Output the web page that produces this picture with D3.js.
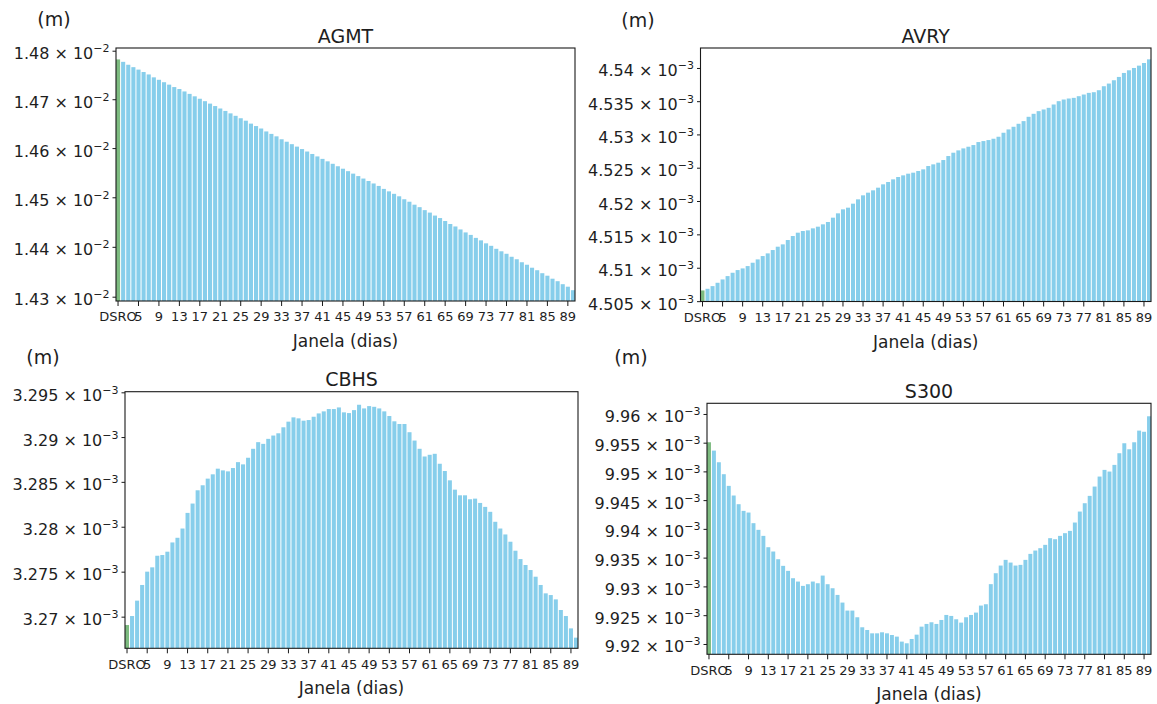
<!DOCTYPE html>
<html>
<head>
<meta charset="utf-8">
<script src="https://cdn.jsdelivr.net/npm/d3@7"></script>
<style>
  body { margin: 0; background: #ffffff; }
  svg text { font-family: "DejaVu Sans", sans-serif; fill: #1e1e1e; }
</style>
</head>
<body>
<svg id="chart" width="1157" height="704"></svg>
<script>
// Window sizes on the x axis: the DSRO reference first, then windows of 2..90 days
const categories = ["DSRO",
  "2","3","4","5","6","7","8","9","10","11","12","13","14","15","16","17","18","19","20",
  "21","22","23","24","25","26","27","28","29","30","31","32","33","34","35","36","37","38","39","40",
  "41","42","43","44","45","46","47","48","49","50","51","52","53","54","55","56","57","58","59","60",
  "61","62","63","64","65","66","67","68","69","70","71","72","73","74","75","76","77","78","79","80",
  "81","82","83","84","85","86","87","88","89","90"];

const xTickLabels = ["DSRO","5","9","13","17","21","25","29","33","37","41","45",
  "49","53","57","61","65","69","73","77","81","85","89"];

// Station values, as mantissas of the power of ten given with each station
const agmtValues = [
  1.4782,1.4777,1.4771,1.4766,1.4761,1.4756,1.4751,1.4745,1.4740,1.4735,
  1.4730,1.4725,1.4721,1.4716,1.4711,1.4706,1.4701,1.4696,1.4691,1.4686,
  1.4681,1.4676,1.4671,1.4666,1.4661,1.4656,1.4650,1.4645,1.4640,1.4634,
  1.4629,1.4624,1.4618,1.4613,1.4608,1.4603,1.4598,1.4593,1.4588,1.4583,
  1.4578,1.4573,1.4568,1.4563,1.4558,1.4553,1.4548,1.4543,1.4538,1.4533,
  1.4528,1.4523,1.4517,1.4512,1.4507,1.4502,1.4496,1.4491,1.4485,1.4480,
  1.4474,1.4469,1.4463,1.4458,1.4452,1.4446,1.4441,1.4435,1.4429,1.4424,
  1.4418,1.4413,1.4407,1.4402,1.4396,1.4391,1.4386,1.4380,1.4375,1.4369,
  1.4364,1.4358,1.4353,1.4347,1.4342,1.4336,1.4331,1.4325,1.4320,1.4313];
const agmtExp = -2;
const agmtTicks = [1.43, 1.44, 1.45, 1.46, 1.47, 1.48];

const avryValues = [
  4.5066,4.50685,4.50725,4.50775,4.50825,4.50875,4.50925,4.50965,4.5099,4.51025,
  4.51075,4.51125,4.51175,4.51215,4.51265,4.51315,4.5135,4.51415,4.51475,4.51525,
  4.5155,4.5156,4.5159,4.51615,4.5165,4.51685,4.5175,4.51815,4.51875,4.519,
  4.5196,4.52025,4.52085,4.52125,4.5216,4.522,4.5225,4.52285,4.52325,4.5236,
  4.52385,4.5241,4.52425,4.5245,4.52475,4.52525,4.5255,4.52575,4.52615,4.52675,
  4.52725,4.5276,4.5279,4.52815,4.5284,4.52885,4.529,4.52915,4.52935,4.52965,
  4.53025,4.53075,4.53115,4.5316,4.532,4.53265,4.5331,4.5335,4.53375,4.534,
  4.5345,4.535,4.53525,4.5354,4.5355,4.53575,4.536,4.53625,4.53635,4.53665,
  4.53725,4.53765,4.53815,4.53865,4.53925,4.53965,4.54,4.54035,4.54075,4.5413];
const avryExp = -3;
const avryTicks = [4.505, 4.51, 4.515, 4.52, 4.525, 4.53, 4.535, 4.54];

const cbhsValues = [
  3.26907,3.27007,3.27178,3.27352,3.275,3.27548,3.27677,3.27685,3.27722,3.27825,
  3.27877,3.2798,3.28154,3.28258,3.28406,3.28462,3.28536,3.28584,3.28647,3.28628,
  3.28617,3.28654,3.2872,3.28695,3.28769,3.28869,3.28943,3.28924,3.2898,3.29017,
  3.29042,3.29109,3.29172,3.2922,3.29209,3.29183,3.2919,3.29227,3.29264,3.29287,
  3.29313,3.29313,3.29331,3.29276,3.29268,3.29301,3.29361,3.2932,3.29346,3.29338,
  3.2932,3.29287,3.29235,3.29176,3.29146,3.29146,3.29054,3.28961,3.28869,3.28783,
  3.28802,3.28813,3.28702,3.28621,3.28517,3.28413,3.2835,3.2835,3.28306,3.28313,
  3.28265,3.28221,3.28166,3.28055,3.2798,3.27914,3.27833,3.27733,3.2764,3.27574,
  3.27518,3.27444,3.27352,3.27259,3.2724,3.27192,3.27074,3.27007,3.2687,3.26767];
const cbhsExp = -3;
const cbhsTicks = [3.27, 3.275, 3.28, 3.285, 3.29, 3.295];

const s300Values = [
  9.95507,9.95362,9.95159,9.94951,9.94748,9.9458,9.94429,9.94313,9.94284,9.94099,
  9.93983,9.93878,9.93681,9.93606,9.93472,9.93357,9.9327,9.93142,9.93084,9.93009,
  9.93038,9.93084,9.93055,9.93188,9.93038,9.92968,9.92852,9.92719,9.9258,9.9258,
  9.92464,9.9229,9.92243,9.92185,9.92185,9.92203,9.92185,9.92156,9.92128,9.92041,
  9.92012,9.92087,9.92162,9.92301,9.92348,9.92377,9.92348,9.92417,9.92504,9.92487,
  9.92429,9.92371,9.92464,9.92504,9.92545,9.92667,9.9269,9.93039,9.93229,9.93362,
  9.93461,9.93414,9.93362,9.93374,9.93461,9.93565,9.93623,9.93664,9.93722,9.93838,
  9.9382,9.93878,9.93925,9.93965,9.9411,9.94301,9.94446,9.94574,9.94736,9.9491,
  9.95026,9.94997,9.95113,9.95316,9.9549,9.95385,9.95507,9.9571,9.9569,9.9596];
const s300Exp = -3;
const s300Ticks = [9.92, 9.925, 9.93, 9.935, 9.94, 9.945, 9.95, 9.955, 9.96];

const barColor = "#87ceeb";
const refColor = "#7dbb80";

// Layout of the four subplots (plot box in px, log-axis limits, unit label spot)
const panels = [
  { title: "AGMT", values: agmtValues, exp: agmtExp, ticks: agmtTicks,
    box: { x0: 116, x1: 575, y0: 48, y1: 301 }, domain: [1.42914, 1.48056], unitAt: [54, 26] },
  { title: "AVRY", values: avryValues, exp: avryExp, ticks: avryTicks,
    box: { x0: 700.5, x1: 1151, y0: 48, y1: 301.5 }, domain: [4.50495, 4.54301], unitAt: [638, 27] },
  { title: "CBHS", values: cbhsValues, exp: cbhsExp, ticks: cbhsTicks,
    box: { x0: 125, x1: 578, y0: 391.7, y1: 648.3 }, domain: [3.26649, 3.29507], unitAt: [43, 364] },
  { title: "S300", values: s300Values, exp: s300Exp, ticks: s300Ticks,
    box: { x0: 707, x1: 1151, y0: 403.3, y1: 654.3 }, domain: [9.91821, 9.96186], unitAt: [631, 364] }
];

const svg = d3.select("#chart");
svg.append("rect").attr("width", 1157).attr("height", 704).attr("fill", "#ffffff");

panels.forEach((p, pi) => {
  const { x0, x1, y0, y1 } = p.box;
  const g = svg.append("g");

  const x = d3.scaleBand().domain(categories).range([x0, x1])
    .paddingInner(0.2).paddingOuter(0);
  const y = d3.scaleLog().domain(p.domain).range([y1, y0]);

  const clipId = "clip" + pi;
  g.append("clipPath").attr("id", clipId)
    .append("rect").attr("x", x0).attr("y", y0).attr("width", x1 - x0).attr("height", y1 - y0);

  // bars rise from the lower edge of the plot box up to each value
  g.append("g").attr("clip-path", `url(#${clipId})`)
    .selectAll("rect").data(p.values).join("rect")
    .attr("x", (d, i) => x(categories[i]))
    .attr("width", x.bandwidth())
    .attr("y", d => y(d))
    .attr("height", d => y1 - y(d))
    .attr("fill", (d, i) => i === 0 ? refColor : barColor);

  // plot frame
  g.append("rect").attr("x", x0).attr("y", y0)
    .attr("width", x1 - x0).attr("height", y1 - y0)
    .attr("fill", "none").attr("stroke", "#1a1a1a").attr("stroke-width", 1.1);

  // y axis: mantissa × 10^exp labels
  const yAxis = d3.axisLeft(y).tickValues(p.ticks).tickSize(3.5).tickPadding(3).tickFormat("");
  const ya = g.append("g").attr("transform", `translate(${x0},0)`).call(yAxis);
  ya.select(".domain").remove();
  ya.selectAll(".tick line").attr("stroke", "#1a1a1a");
  ya.selectAll(".tick").each(function (v) {
    const t = d3.select(this).append("text")
      .attr("x", -6.5).attr("y", 8)
      .attr("text-anchor", "end")
      .style("font-size", "16px");
    t.append("tspan").text(`${v} \u00d7 10`);
    t.append("tspan").attr("dy", -7).style("font-size", "11px").text("\u2212" + Math.abs(p.exp));
  });

  // x axis: a labelled tick every fourth window
  const xAxis = d3.axisBottom(x).tickValues(xTickLabels).tickSize(5).tickPadding(6);
  const xa = g.append("g").attr("transform", `translate(0,${y1})`).call(xAxis);
  xa.select(".domain").remove();
  xa.selectAll(".tick line").attr("stroke", "#1a1a1a");
  xa.selectAll(".tick text").attr("fill", "#1e1e1e")
    .style("font-size", "13px").style("font-family", "'DejaVu Sans', sans-serif");

  // titles and axis captions
  g.append("text").attr("x", (x0 + x1) / 2).attr("y", y0 - 5.5)
    .attr("text-anchor", "middle").style("font-size", "19px").text(p.title);
  g.append("text").attr("x", (x0 + x1) / 2).attr("y", y1 + 46)
    .attr("text-anchor", "middle").style("font-size", "17px").text("Janela (dias)");
  g.append("text").attr("x", p.unitAt[0]).attr("y", p.unitAt[1])
    .attr("text-anchor", "middle").style("font-size", "19px").text("(m)");
});
</script>
</body>
</html>
